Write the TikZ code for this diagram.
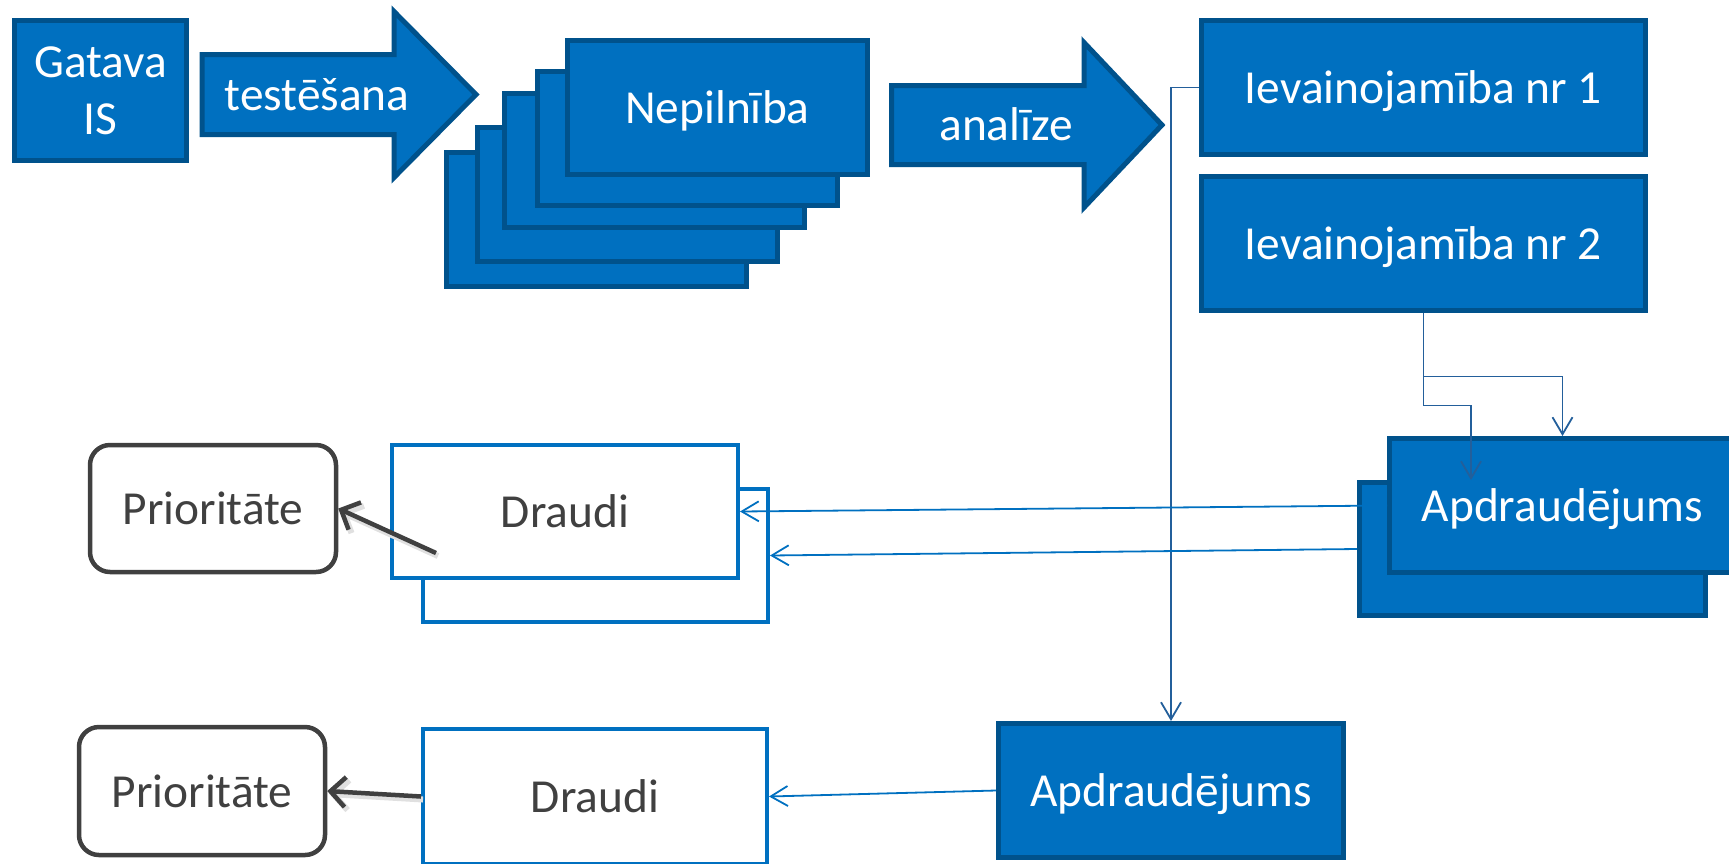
\documentclass[tikz,border=0pt]{standalone}
\usepackage{fontspec}
\setmainfont{Carlito}
\usetikzlibrary{arrows.meta}
\definecolor{accent}{RGB}{0,112,192}
\definecolor{accentdark}{RGB}{0,82,140}
\definecolor{linkblue}{RGB}{35,95,155}
\definecolor{greytext}{RGB}{64,64,64}

\begin{document}
\begin{tikzpicture}[x=0.5pt,y=-0.5pt]
	\tikzstyle{every node}+=[inner sep=0pt, font=\fontsize{23.7}{28.5}\selectfont]
	\tikzstyle{capcentre}=[text height=16.2pt, text depth=0pt]
	\tikzstyle{bluebox}=[draw=accentdark, fill=accent, line width=2.5pt, text=white, align=center]
	\tikzstyle{whitebox}=[draw=accent, fill=white, line width=2pt, text=greytext, capcentre]
	\tikzstyle{priobox}=[draw=greytext, fill=white, line width=2.25pt, rounded corners=10pt, text=greytext, capcentre, minimum width=123pt]
	\tikzstyle{blockarrow}=[draw=accentdark, fill=accent, line width=2.5pt, line join=miter]
	\tikzstyle{link}=[linkblue, line width=0.9pt, -{Straight Barb[length=8.5pt,width=10pt]}]
	\tikzstyle{feed}=[accent, line width=0.9pt, -{Straight Barb[length=8.5pt,width=10pt]}]
	\tikzstyle{rank}=[greytext, line width=2.25pt, -{Straight Barb[length=7.5pt,width=15pt]}, preaction={draw=black!12, line width=3pt, transform canvas={shift={(1pt,-1.5pt)}}}]
	\useasboundingbox (0,0) rectangle (1729,863);
	\clip (0,0) rectangle (1729,863);
	\node [bluebox, minimum width=86pt, minimum height=70pt] (gatava) at (100.5,90.5) {Gatava\\IS};
	\draw [blockarrow] (202,54.5) -- (394,54.5) -- (394,11.5) -- (476,94.5) -- (394,177.5) -- (394,134.5) -- (202,134.5) -- cycle;
	\node [text=white, anchor=base] (testing) at (317,110) {testēšana};
	\node [bluebox, capcentre, minimum width=150pt, minimum height=67pt] (flaw5) at (596,219.5) {};
	\node [bluebox, capcentre, minimum width=150pt, minimum height=67pt] (flaw4) at (627,194) {};
	\node [bluebox, capcentre, minimum width=150pt, minimum height=67pt] (flaw3) at (654,160) {};
	\node [bluebox, capcentre, minimum width=150pt, minimum height=67pt] (flaw2) at (687,138.5) {};
	\node [bluebox, capcentre, minimum width=150pt, minimum height=67pt] (flaw1) at (717.5,107) {Nepilnība};
	\draw [blockarrow] (891.5,85.5) -- (1084,85.5) -- (1084,42.5) -- (1162,125) -- (1084,207.5) -- (1084,164.5) -- (891.5,164.5) -- cycle;
	\node [text=white, anchor=base] (analysis) at (1006,140) {analīze};
	\node [bluebox, capcentre, minimum width=222pt, minimum height=67pt] (ievA) at (1423.5,87.5) {Ievainojamība nr 1};
	\node [bluebox, capcentre, minimum width=222pt, minimum height=67pt] (ievB) at (1423.5,243) {Ievainojamība nr 2};
	\node [bluebox, capcentre, minimum width=173pt, minimum height=66.5pt] (apdrA) at (1532.5,549) {};
	\node [bluebox, capcentre, minimum width=173pt, minimum height=67pt] (apdrB) at (1562.5,505.5) {Apdraudējums};
	\node [bluebox, capcentre, minimum width=172.5pt, minimum height=67pt] (apdrC) at (1171,790.5) {Apdraudējums};
	\node [whitebox, minimum width=172.5pt, minimum height=66.5pt] (draudiB) at (595.5,555.5) {};
	\node [whitebox, minimum width=173pt, minimum height=66.5pt] (draudiA) at (565,511.5) {Draudi};
	\node [whitebox, minimum width=172pt, minimum height=67.5pt] (draudiC) at (595,796.5) {Draudi};
	\node [priobox, minimum height=63.5pt] (prioA) at (213,508.5) {Prioritāte};
	\node [priobox, minimum height=64pt] (prioC) at (202,791) {Prioritāte};
	\coordinate (pullA) at (436,553);
	\draw [link] (ievA.west) -| (apdrC.north);
	\draw [link] (ievB.south) -- ++(0,64) -| (apdrB.north);
	\draw [link] (ievB.south) -- ++(0,93) -| ([xshift=-30.75pt]apdrA.north);
	\draw [feed] (apdrB.west) -- (draudiA.east);
	\draw [feed] (apdrA.west) -- (draudiB.east);
	\draw [feed] (apdrC.west) -- (draudiC.east);
	\draw [rank] (pullA) -- (prioA.east);
	\draw [rank] (draudiC.west) -- (prioC.east);
\end{tikzpicture}
\end{document}
